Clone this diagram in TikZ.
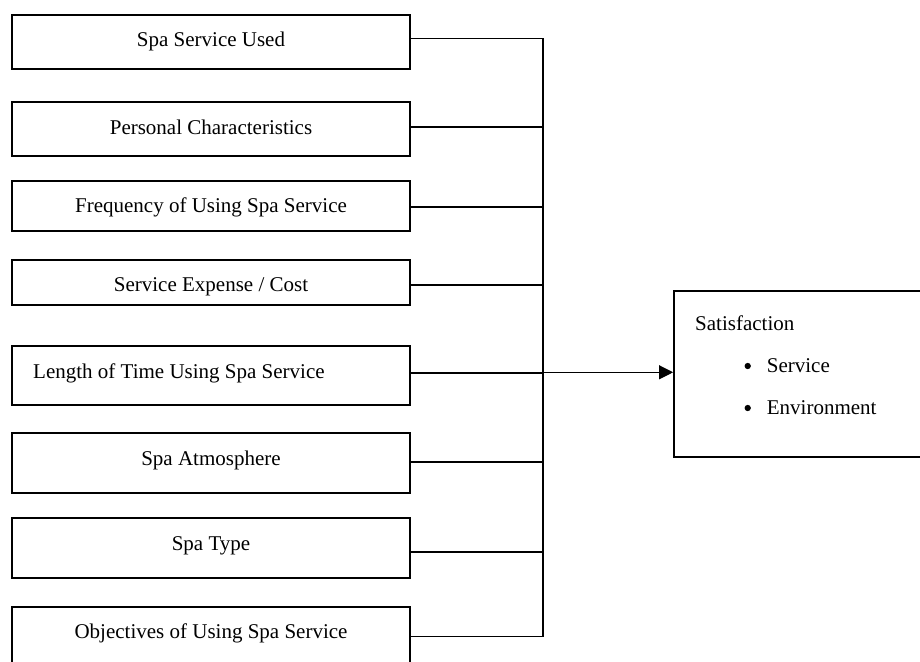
\documentclass[tikz,border=0pt]{standalone}
\usepackage{fontspec}
\setmainfont{Liberation Serif}
\usetikzlibrary{arrows.meta}
\begin{document}
\begin{tikzpicture}[x=1pt,y=-1pt,
  box/.style={draw, line width=1.8pt, inner sep=0pt, minimum width=398pt},
  lbl/.style={font=\fontsize{21}{25}\selectfont, inner sep=0pt, anchor=base},
  conn/.style={line width=1.7pt, line join=miter},
  arr/.style={line width=1.1pt, -{Triangle[length=14pt,width=14pt]}},
  bullet/.style={circle, fill, inner sep=0pt, minimum size=6.3pt},
]
\clip (0,0) rectangle (920,661);
\useasboundingbox (0,0) rectangle (920,661);

% factor boxes
\node[box, minimum height=54.3pt] (b1) at (211,41.85) {};
\node[box, minimum height=53.7pt] (b2) at (211,129.15) {};
\node[box, minimum height=49.7pt] (b3) at (211,205.85) {};
\node[box, minimum height=44.7pt] (b4) at (211,282.35) {};
\node[box, minimum height=58.7pt] (b5) at (211,375.35) {};
\node[box, minimum height=60.6pt] (b6) at (211,463) {};
\node[box, minimum height=60pt]   (b7) at (211,548.3) {};
\node[box, minimum height=73.3pt] (b8) at (211,643.35) {};

% labels
\node[lbl] (t1) at (211,46.7) {Spa Service Used};
\node[lbl] (t2) at (211,134) {Personal Characteristics};
\node[lbl] (t3) at (211,212.7) {Frequency of Using Spa Service};
\node[lbl] (t4) at (211,291.7) {Service Expense / Cost};
\node[lbl, anchor=base west] (t5) at (33,378.3) {Length of Time Using Spa Service};
\node[lbl] (t6) at (211,465) {Spa Atmosphere};
\node[lbl] (t7) at (211,550) {Spa Type};
\node[lbl] (t8) at (211,638.3) {Objectives of Using Spa Service};

% satisfaction box
\node[draw, line width=1.8pt, minimum width=261pt, minimum height=165.7pt, inner sep=0pt] (sat) at (804.5,373.85) {};
\node[lbl, anchor=base west] (st) at (695,330) {Satisfaction};
\node[bullet] (bu1) at (747.7,366) {};
\node[lbl, anchor=base west] (s1) at (766.7,372.3) {Service};
\node[bullet] (bu2) at (747.7,408) {};
\node[lbl, anchor=base west] (s2) at (766.7,414.3) {Environment};

% junction points
\coordinate (j1) at (543,38.5);
\coordinate (j2) at (543,126.7);
\coordinate (j3) at (543,207.3);
\coordinate (j4) at (543,285);
\coordinate (j5) at (543,373);
\coordinate (j6) at (543,462.3);
\coordinate (j7) at (543,551.7);
\coordinate (j8) at (543,636.5);
\coordinate (ja) at (543,372.3);

% connectors
\draw[conn] (b1.east |- j1) -- (j1) -- (j8) -- (b8.east |- j8);
\draw[conn] (b2.east |- j2) -- (j2);
\draw[conn] (b3.east |- j3) -- (j3);
\draw[conn] (b4.east |- j4) -- (j4);
\draw[conn] (b5.east |- j5) -- (j5);
\draw[conn] (b6.east |- j6) -- (j6);
\draw[conn] (b7.east |- j7) -- (j7);
\draw[arr] (ja) -- (sat.west |- ja);
\end{tikzpicture}
\end{document}
